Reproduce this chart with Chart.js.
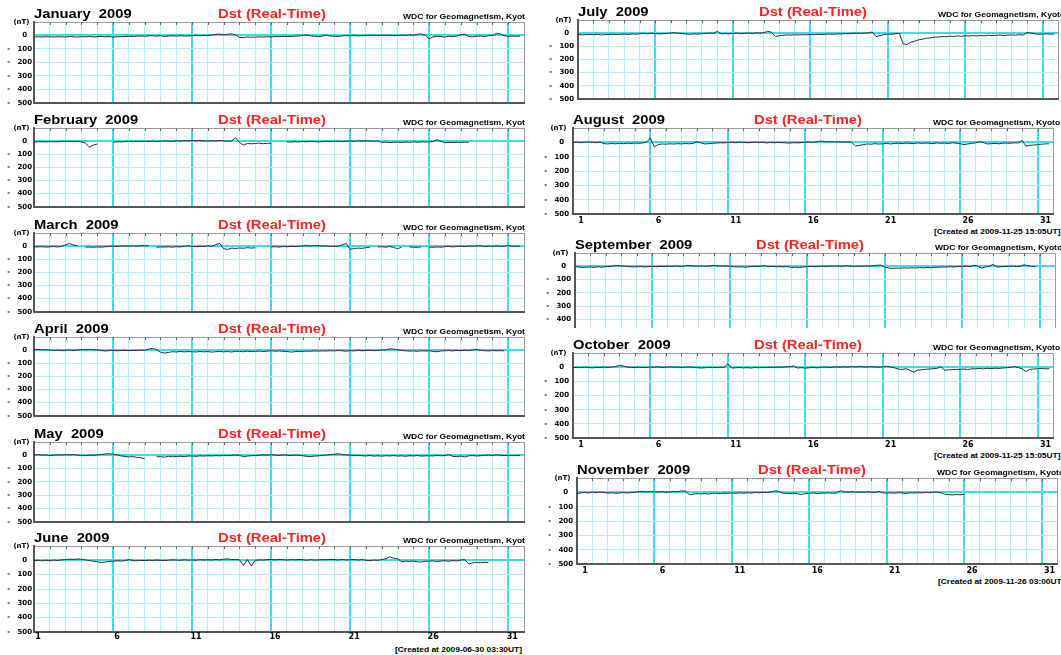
<!DOCTYPE html>
<html><head><meta charset="utf-8">
<script src="https://cdn.jsdelivr.net/npm/chart.js@4.4.1/dist/chart.umd.min.js"></script>
<style>
html,body{margin:0;padding:0;background:#fff;width:1061px;height:655px;overflow:hidden;position:relative;}
canvas{position:absolute;}
.t{position:absolute;white-space:pre;font-family:'Liberation Sans',Arial,Helvetica,sans-serif;font-weight:bold;color:#000;}
.clip{position:absolute;overflow:hidden;white-space:pre;}
</style></head><body>
<script>
const monthTitles = ['January  2009','February  2009','March  2009','April  2009','May  2009','June  2009',
  'July  2009','August  2009','September  2009','October  2009','November  2009'];
const chartTitle = 'Dst (Real-Time)';
const sourceText = 'WDC for Geomagnetism, Kyoto';
const yTickValues = [100, 0, -100, -200, -300, -400, -500];
const dayTickLabels = ['1','6','11','16','21','26','31'];

const jan = [-12,-10,-11,-9, -10,-12,-9,-10, -11,-8,-10,-12, -9,-10,-8,-11, -9,-7,-10,-8, -12,-10,-9,-8,
  -6,-8,-5,-4, -6,-3,-2,-5, -2,-8,-4,-3, -5,-2,-4,-3, -1,2,-1,1, 0,3,8,10, 6,9,12,4, -14,-15,-12,-13,
  -12,-10,-12,-9, -11,-8,-9,-6, -7,-9,-5,-4, 2,5,-3,-6, -9,-4,2,-5, -6,-8,-3,-1, -2,0,-3,-1, 1,0,2,-1,
  3,0,2,-1, 1,3,0,4, 2,8,12,3, -25,-10,-6,-8, -12,-6,-9,-4, 6,10,-8,-10, -6,-4,-8,-2, 0,15,12,-2, -6,-5,-6,-4];
const feb = [-6,-5,-4,-6, -3,-5,-4,-2, -3,-1,-4,-2, -6,-15,-45,-30, -22,null,null,null, -8,-5,-6,-3,
  -2,-4,-1,-3, 0,-2,1,-3, -1,2,0,-2, 3,1,4,2, 5,2,6,3, 1,4,2,5, 3,0,2,25, -10,-30,-18,-20,
  -18,-15,-20,-16, -17,null,null,null, -5,-8,-4,-6, -3,-5,-2,-4, -6,-3,-1,-4, -2,0,-3,-1, 1,-2,2,0,
  3,1,-1,2, -10,-8,-11,-9, -8,-10,-7,-9, -6,-8,-5,-7, -5,-3,10,-2, -12,-10,-11,-9, -10,-8,-9];
const mar = [-5,-6,-4,-7, -5,-3,-6,-2, 10,20,8,2, null,-8,-7,-9, -6,-8,-5,-2, 0,-3,2,1, -1,3,0,4,
  2,5,null,-8, -6,-7,-5,-8, -4,-6,-2,3, -2,-4,-1,-3, 2,-2,12,20, -20,-25,-15,-18, -14,-16,-12,-15,
  -13,null,null,null, -6,-4,-7,-3, -5,-2,-4,-1, 2,4,1,5, 3,-1,2,-3, 0,-2,10,20, -25,-18,-15,-17,
  -12,-8,null,-6, -4,-8,-3,-10, -20,-8,null,-6, -8,-10,-5,null, -7,-9,-6,-8, -4,-2,-6,-3, 0,-3,2,-1,
  1,3,-2,0, -1,2,-3,0, 5,-2,0,-1];
const apr = [3,5,2,4, 1,-2,0,-4, -2,1,-3,0, 4,2,6,3, 1,-3,-6,-4, -2,-5,-3,-1, -4,-2,-3,0, -2,8,12,5,
  -15,-22,-18,-12, -14,-10,-13,-11, -12,-14,-10,-13, -11,-15,-12,-10, -13,-11,-14,-9, -10,-12,-8,-11,
  -9,-7,-10,-8, -4,-8,-6,-9, -10,-15,-12,-9, -10,-7,-9,-6, -8,-5,-7,-4, -6,-3,-5,-8, -4,-6,-2,-5,
  -3,-1,-4,-2, 2,0,10,8, 3,-2,-5,-8, -6,-9,-5,-7, -4,-10,-12,-6, -5,-3,-6,-2, -4,-1,-3,2, 5,-2,-4,-6, -3,-5,-4,-6];
const may = [2,5,0,3, -2,1,4,2, 5,3,6,1, 0,-3,2,-1, 3,6,10,12, 8,4,-5,-8, -12,-10,-15,-18, -25,null,null,-12,
  -10,-14,-8,-11, -9,-7,-10,-6, -5,-8,-4,-6, -3,-5,-2,-4, -1,-3,0,2, -1,-10,-6,-3, -2,0,3,1, 4,2,-1,3,
  1,-2,2,0, -3,-8,-10,-6, -4,-1,2,5, 8,12,6,3, 1,-2,0,-3, -5,-2,-6,-4, -7,-3,-5,-2, -6,-4,-8,-3,
  -5,-2,-6,-4, -3,-5,-1,-4, -2,5,-8,-10, -6,-12,-4,-2, -5,-3,0,2, -1,3,1,-2, 0,-3,-1,-2];
const jun = [-2,0,-4,1, -3,2,-1,3, 5,8,6,10, 7,3,-2,-6, -10,-15,-12,-8, -6,-3,-5,-2, 5,-1,-3,0,
  -2,1,-1,2, 0,-2,1,3, 2,0,4,1, 3,1,5,2, 4,2,6,3, 8,10,5,7, 4,-35,5,-40, 0,3,2,5, 6,3,7,4,
  2,5,3,6, 4,1,5,2, 3,6,4,7, 5,2,6,3, 4,7,2,5, 1,-3,2,0, 5,10,25,15, 12,-10,-6,-8, -5,-10,-12,-7,
  -6,-4,-8,-5, -3,-6,-2,-4, 2,5,-25,-18, -15,-17,-14,-16];
const jul = [-8,-12,-10,-9, -11,-8,-12,-10, -9,-7,-10,-8, -6,-9,-5,-7, -3,-1,-4,0, -2,-5,-3,-1,
  2,4,0,-3, -5,-8,-4,-6, -3,-1,2,0, 15,-5,-2,-4, -1,1,-2,0, 2,-1,3,1, 5,15,8,-25, -18,-15,-12,-14,
  -11,-13,-10,-12, -9,-11,-8,-10, -7,-5,-8,-4, -6,-2,-4,0, 1,-1,2,3, 10,-25,-18,-10, -6,-8,-3,0,
  -80,-85,-68,-60, -50,-45,-38,-35, -30,-28,-25,-26, -22,-24,-20,-23, -19,-21,-18,-20, -17,-19,-15,-18,
  -16,-13,-17,-14, -12,-15,-10,-13, 5,2,-4,-8, -6,-3,-7,-5];
const aug = [0,3,-2,2, 4,1,-1,3, -8,-10,-7,-9, -6,-8,-5,-7, -4,-6,-3,5, 30,-30,-15,-10, -12,-9,-11,-8,
  -10,-7,-9,-6, 5,-2,-10,-8, -6,-4,-2,-3, 0,2,-1,3, 1,-2,0,2, -1,1,-3,0, -2,0,-1,-3, -4,-1,-3,0,
  2,4,1,6, 10,7,4,6, 3,5,2,4, 1,-25,-20,-15, -10,-12,-8,-11, -9,-6,-10,-7, -5,-8,-4,-6, -7,-3,-6,-4,
  -5,-8,-3,-6, -4,-7,-2,-5, -8,-15,-10,-6, -3,5,0,-10, -8,-6,-9,-5, -4,-6,-2,-3, 15,-25,-20,-18, -15,-12,-10,-9];
const sep = [0,-5,-8,-6, -4,-7,-3,-5, -2,0,3,8, 4,1,-2,-4, -3,-1,-5,-2, 0,-3,1,-2, 2,0,3,-1, 1,8,5,3,
  2,4,1,5, 8,3,2,4, 1,-2,-5,-3, -6,-2,0,-1, 2,5,-2,0, -3,-1,-4,-2, -8,-6,-9,-4, -2,0,-3,1, 2,0,3,1,
  4,2,5,3, 1,3,0,4, 2,5,8,10, -5,-12,-15,-13, -14,-11,-13,-10, -12,-9,-11,-8, -10,-7,-6,-4, -5,-2,-4,-1,
  0,2,-1,8, 3,-12,-5,0, 15,-5,-3,-1, 0,2,-1,1, 12,5,0,-3];
const oct = [-2,0,-3,1, -1,-4,0,-2, 2,-1,3,5, 15,10,2,0, -1,1,-2,0, 2,0,3,-1, 1,3,0,2, -1,1,3,0,
  -2,-5,-3,-1, 0,-2,1,-1, 25,-5,-3,-1, -4,-2,-5,-1, -3,0,-2,1, -1,2,0,3, 5,10,-5,-2, -6,-3,-1,-4,
  0,2,-1,1, 3,1,4,2, 5,3,6,4, 2,5,3,1, 4,8,2,-3, -12,-15,-10,-20, -35,-20,-18,-14, -12,-10,-8,5,
  -20,-18,-16,-15, -14,-12,-15,-11, -10,-8,-11,-7, -9,-6,-8,-5, -3,0,5,-2, -10,-30,-15,-12, -10,-8,-11,-9];
const nov = [-10,-2,0,-3, 2,-1,3,0, -4,-2,-5,-3, -1,-3,0,2, 5,8,4,7, 5,3,6,2, 4,7,5,12, 10,-15,-12,-8,
  -10,-7,-11,-6, -5,-8,-4,-6, -3,-6,-2,-5, -1,-4,0,-2, 2,0,3,10, 8,-3,-6,-8, -5,-9,-15,-7, -6,-3,-8,-4,
  -5,-2,-6,-3, 12,5,3,6, 2,4,1,5, 3,0,8,-2, -4,-2,-5,-1, -3,-6,-2,-4, -1,-3,0,-2, 1,3,-2,-12,
  -15,-17,-14,-16, -13];
const monthData = [jan, feb, mar, apr, may, jun, jul, aug, sep, oct, nov];
const createdTexts = {5:'[Created at 2009-06-30 03:30UT]', 7:'[Created at 2009-11-25 15:05UT]',
  9:'[Created at 2009-11-25 15:05UT]', 10:'[Created at 2009-11-26 03:00UT]'};

// ---- Layout (pixels) ----
const LW = 489.8, RW = 479.6;
const panels = [
  {left:34, top:22, w:LW, h:85, col:'L'},
  {left:34, top:128, w:LW, h:83, col:'L'},
  {left:34, top:233, w:LW, h:83, col:'L'},
  {left:34, top:337, w:LW, h:83, col:'L'},
  {left:34, top:442, w:LW, h:84, col:'L'},
  {left:34, top:546, w:LW, h:86, col:'L', labels:true},
  {left:578, top:20, w:RW, h:85, col:'R'},
  {left:573, top:128, w:RW, h:86, col:'R', labels:true},
  {left:575, top:253, w:RW, h:81, col:'R', ymin:-465, noBottom:true},
  {left:573, top:353, w:RW, h:85, col:'R', labels:true},
  {left:577, top:478, w:RW, h:86, col:'R', labels:true}
];

const FAM = "'DejaVu Sans', 'Liberation Sans', Arial, sans-serif";
const LIGHT = '#b2eff6', BOLD = '#3ddcec', FRAME = '#9a9a9a', AXIS = '#555555';

const topTicks = {
  id: 'topTicks',
  afterDraw(chart) {
    const {ctx, chartArea: a, scales: {x}} = chart;
    ctx.save();
    ctx.strokeStyle = '#666';
    ctx.lineWidth = 1;
    for (let d = 1; d < 31; d++) {
      const px = Math.round(x.getPixelForValue(d)) + 0.5;
      ctx.beginPath(); ctx.moveTo(px, a.top); ctx.lineTo(px, a.top + 3); ctx.stroke();
    }
    ctx.restore();
  }
};

function addText(txt, left, top, size, opts) {
  const d = document.createElement('div');
  d.className = 't';
  d.textContent = txt;
  d.style.left = left + 'px';
  d.style.top = top + 'px';
  d.style.fontSize = size + 'px';
  d.style.lineHeight = size + 'px';
  if (opts && opts.color) d.style.color = opts.color;
  if (opts && opts.scale) { d.style.transform = 'scaleX(' + opts.scale + ')'; d.style.transformOrigin = opts.origin || 'left center'; }
  if (opts && opts.width) { d.style.width = opts.width + 'px'; d.style.textAlign = 'center'; }
  document.body.appendChild(d);
  return d;
}

panels.forEach((p, idx) => {
  const YW = 34, PT = 8, PR = 2;
  const XH = p.labels ? 14 : 2;
  const W = YW + Math.round(p.w) + PR, H = PT + p.h + XH;
  const c = document.createElement('canvas');
  c.width = W; c.height = H;
  c.style.width = W + 'px'; c.style.height = H + 'px';
  c.style.left = (p.left - YW) + 'px';
  c.style.top = (p.top - PT) + 'px';
  document.body.appendChild(c);
  const isL = p.col === 'L';
  const arr = monthData[idx];
  new Chart(c, {
    type: 'line',
    data: { datasets: [{
      data: arr.map((v, i) => ({x: i / 4, y: v})),
      borderColor: '#2c2c2c', borderWidth: 1, pointRadius: 0, tension: 0, spanGaps: false, fill: false
    }]},
    options: {
      responsive: false, animation: false, devicePixelRatio: 1,
      layout: { padding: {top: PT, right: PR, left: 0, bottom: 0} },
      plugins: { legend: {display: false}, tooltip: {enabled: false}, title: {display: false} },
      events: [],
      scales: {
        x: {
          type: 'linear', min: 0, max: 31,
          afterFit: s => { s.height = XH; },
          ticks: {
            display: !!p.labels, stepSize: 1, autoSkip: false, maxRotation: 0, minRotation: 0,
            padding: isL ? 0.5 : 2, labelOffset: isL ? 4 : 8, color: '#000',
            font: {family: FAM, size: 8, weight: 'bold'},
            callback: v => (v % 5 === 0 && v < 31) ? dayTickLabels[v / 5] : ''
          },
          grid: {
            drawTicks: false,
            color: ctx => { const v = ctx.tick.value; return v === 31 ? FRAME : (v % 5 === 0 && v > 0 ? BOLD : LIGHT); },
            lineWidth: ctx => { const v = ctx.tick.value; return (v % 5 === 0 && v > 0 && v < 31) ? 2 : 1; }
          },
          border: { display: !p.noBottom, color: AXIS, width: 2 }
        },
        y: {
          min: p.ymin || -500, max: 100,
          afterFit: s => { s.width = YW; },
          afterBuildTicks: s => { s.ticks = yTickValues.filter(v => v >= s.min && v <= s.max).map(v => ({value: v})); },
          ticks: {
            padding: isL ? 2 : 4, color: '#000',
            font: ctx => ({family: FAM, size: 7, weight: 'bold'}),
            callback: v => v === 100 ? '(nT) ' : (v === 0 ? '0  ' : '-   ' + (-v))
          },
          grid: {
            drawTicks: false,
            color: ctx => { const v = ctx.tick.value; return v === 100 ? FRAME : (v === 0 ? BOLD : LIGHT); },
            lineWidth: ctx => ctx.tick.value === 0 ? 2 : 1
          },
          border: { color: AXIS, width: 2 }
        }
      }
    },
    plugins: [topTicks]
  });
});

// ---- Text (titles, source, creation stamp) ----
panels.forEach((p, idx) => {
  const isL = p.col === 'L';
  const tc = p.top - 7.2;
  addText(monthTitles[idx], p.left, tc - 6.5, 12, {scale: 1.23});
  const cx = p.left + (isL ? 238 : 235);
  addText(chartTitle, cx - 100, tc - 6.5, 12, {scale: 1.23, origin: 'center center', width: 200, color: '#ff2222'});
  const wl = p.left + (isL ? 369 : 360);
  const clip = document.createElement('div');
  clip.className = 'clip';
  clip.style.left = wl + 'px';
  clip.style.top = (p.top - 6 - 4) + 'px';
  clip.style.width = ((isL ? 525 : 1061) - wl) + 'px';
  clip.style.height = '9px';
  document.body.appendChild(clip);
  const s = document.createElement('div');
  s.className = 't';
  s.textContent = sourceText;
  s.style.left = '0px'; s.style.top = '1px';
  s.style.fontSize = '7px'; s.style.lineHeight = '7px';
  s.style.transform = 'scaleX(1.22)'; s.style.transformOrigin = 'left center';
  clip.appendChild(s);
  if (createdTexts[idx]) {
    const bottom = p.top + p.h;
    addText(createdTexts[idx], p.left + 361, bottom + 17.3 - 3.8, 7, {scale: 1.2});
  }
});
</script>
</body></html>
